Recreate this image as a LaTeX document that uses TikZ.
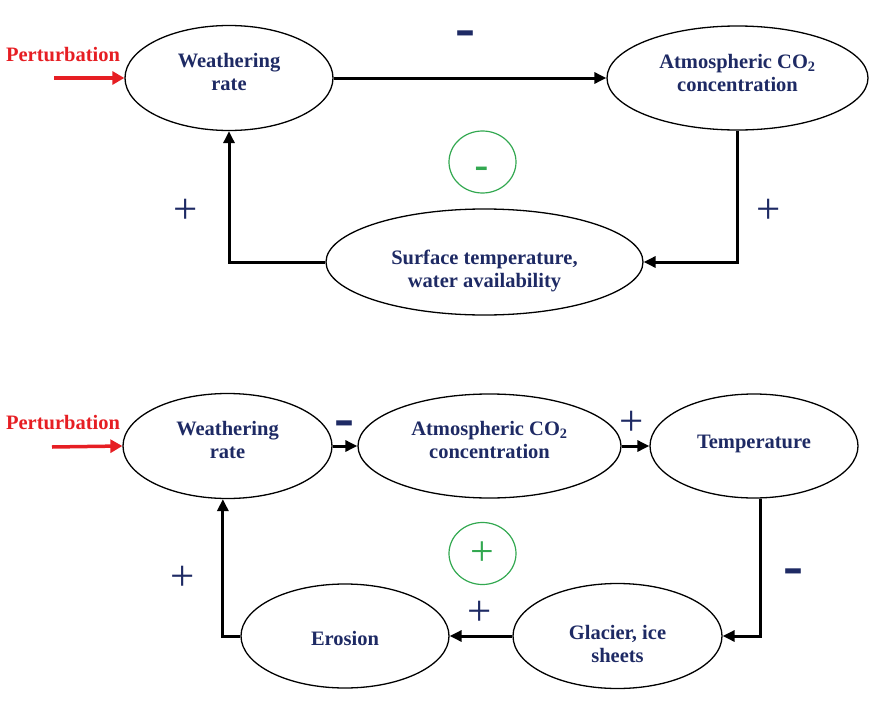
\documentclass[tikz,border=0pt]{standalone}
\usepackage{fontspec}
\setmainfont{Liberation Serif}
\newfontfamily\sansf{Liberation Sans}
\usetikzlibrary{shapes.geometric,arrows.meta}
\definecolor{navy}{RGB}{30,42,100}
\definecolor{loopgreen}{RGB}{50,168,80}
\definecolor{pertred}{RGB}{230,30,35}
\begin{document}
\begin{tikzpicture}[x=1pt,y=-1pt,
  box/.style={ellipse,draw=black,line width=1.3pt,inner sep=0pt,align=center,text=navy,
    font=\fontsize{20.5}{23}\selectfont\bfseries,text depth=0pt},
  conn/.style={line width=3pt,-{Triangle[length=12pt,width=11pt]}},
  pert/.style={line width=3.5pt,draw=pertred,-{Triangle[length=12pt,width=13pt]}},
  perttext/.style={text=pertred,font=\fontsize{20.5}{24}\selectfont\bfseries,inner sep=0pt},
  plussign/.style={text=navy,font=\fontsize{43}{43}\selectfont,inner sep=0pt},
  minussign/.style={text=navy,font=\fontsize{60}{60}\selectfont\bfseries,inner sep=0pt,anchor=base},
  loopcircle/.style={ellipse,draw=loopgreen,line width=1.2pt,minimum width=67pt,minimum height=62pt,inner sep=0pt},
  loopplus/.style={text=loopgreen,font=\fontsize{42}{42}\selectfont,inner sep=0pt},
  loopminus/.style={text=loopgreen,font=\sansf\fontsize{44}{44}\selectfont,inner sep=0pt,anchor=base}
]
\useasboundingbox (0,0) rectangle (876,704);

% ---------- top diagram ----------
\node[box,minimum width=208pt,minimum height=105pt,text height=25.4pt] (w1) at (229,78) {Weathering\\rate};
\node[box,minimum width=261pt,minimum height=104pt,text height=27.4pt] (c1) at (737.5,78) {Atmospheric CO\textsubscript{2}\\concentration};
\node[box,minimum width=317pt,minimum height=106pt,text height=50pt] (s1) at (484.5,262) {Surface temperature,\\water availability};

\node[perttext] (pt1) at (63,55) {Perturbation};
\coordinate (p1) at (54,78);
\draw[pert] (p1) -- (w1.west);

\draw[conn] (w1) -- (c1);
\draw[conn] (c1.south) |- (s1.east);
\draw[conn] (s1.west) -| (w1.south);

\node[minussign] (m1) at (465,47) {-};
\node[plussign] (pl1) at (186,211) {+};
\node[plussign] (pl2) at (769,211) {+};
\node[loopcircle] (g1) at (482.5,162) {};
\node[loopminus] (gm1) at (482,180.5) {-};

% ---------- bottom diagram ----------
\node[box,minimum width=209pt,minimum height=105pt,text height=24.6pt] (w2) at (227.5,446) {Weathering\\rate};
\node[box,minimum width=263pt,minimum height=104pt,text height=24pt] (c2) at (489.5,446) {Atmospheric CO\textsubscript{2}\\concentration};
\node[box,minimum width=208pt,minimum height=104pt,text height=4.6pt] (t2) at (754,446) {Temperature};
\node[box,minimum width=209pt,minimum height=105pt,text height=53.4pt] (gl2) at (617.5,636) {Glacier, ice\\sheets};
\node[box,minimum width=208pt,minimum height=104pt,text height=18pt] (e2) at (345,636) {Erosion};

\node[perttext] (pt2) at (63,423) {Perturbation};
\coordinate (p2) at (52,447);
\draw[pert] (p2) -- (w2.west);

\draw[conn] (w2) -- (c2);
\draw[conn] (c2) -- (t2);
\draw[conn] (t2.-83) |- (gl2.east);
\draw[conn] (gl2) -- (e2);
\draw[conn] (e2.west) -| (w2.-95);

\node[minussign] (m2) at (344,437) {-};
\node[plussign] (pl3) at (632,423) {+};
\node[minussign] (m3) at (793,585) {-};
\node[plussign] (pl4) at (480,613) {+};
\node[plussign] (pl5) at (183,578) {+};
\node[loopcircle] (g2) at (482.5,553.5) {};
\node[loopplus] (gp2) at (482,554) {+};
\end{tikzpicture}
\end{document}
